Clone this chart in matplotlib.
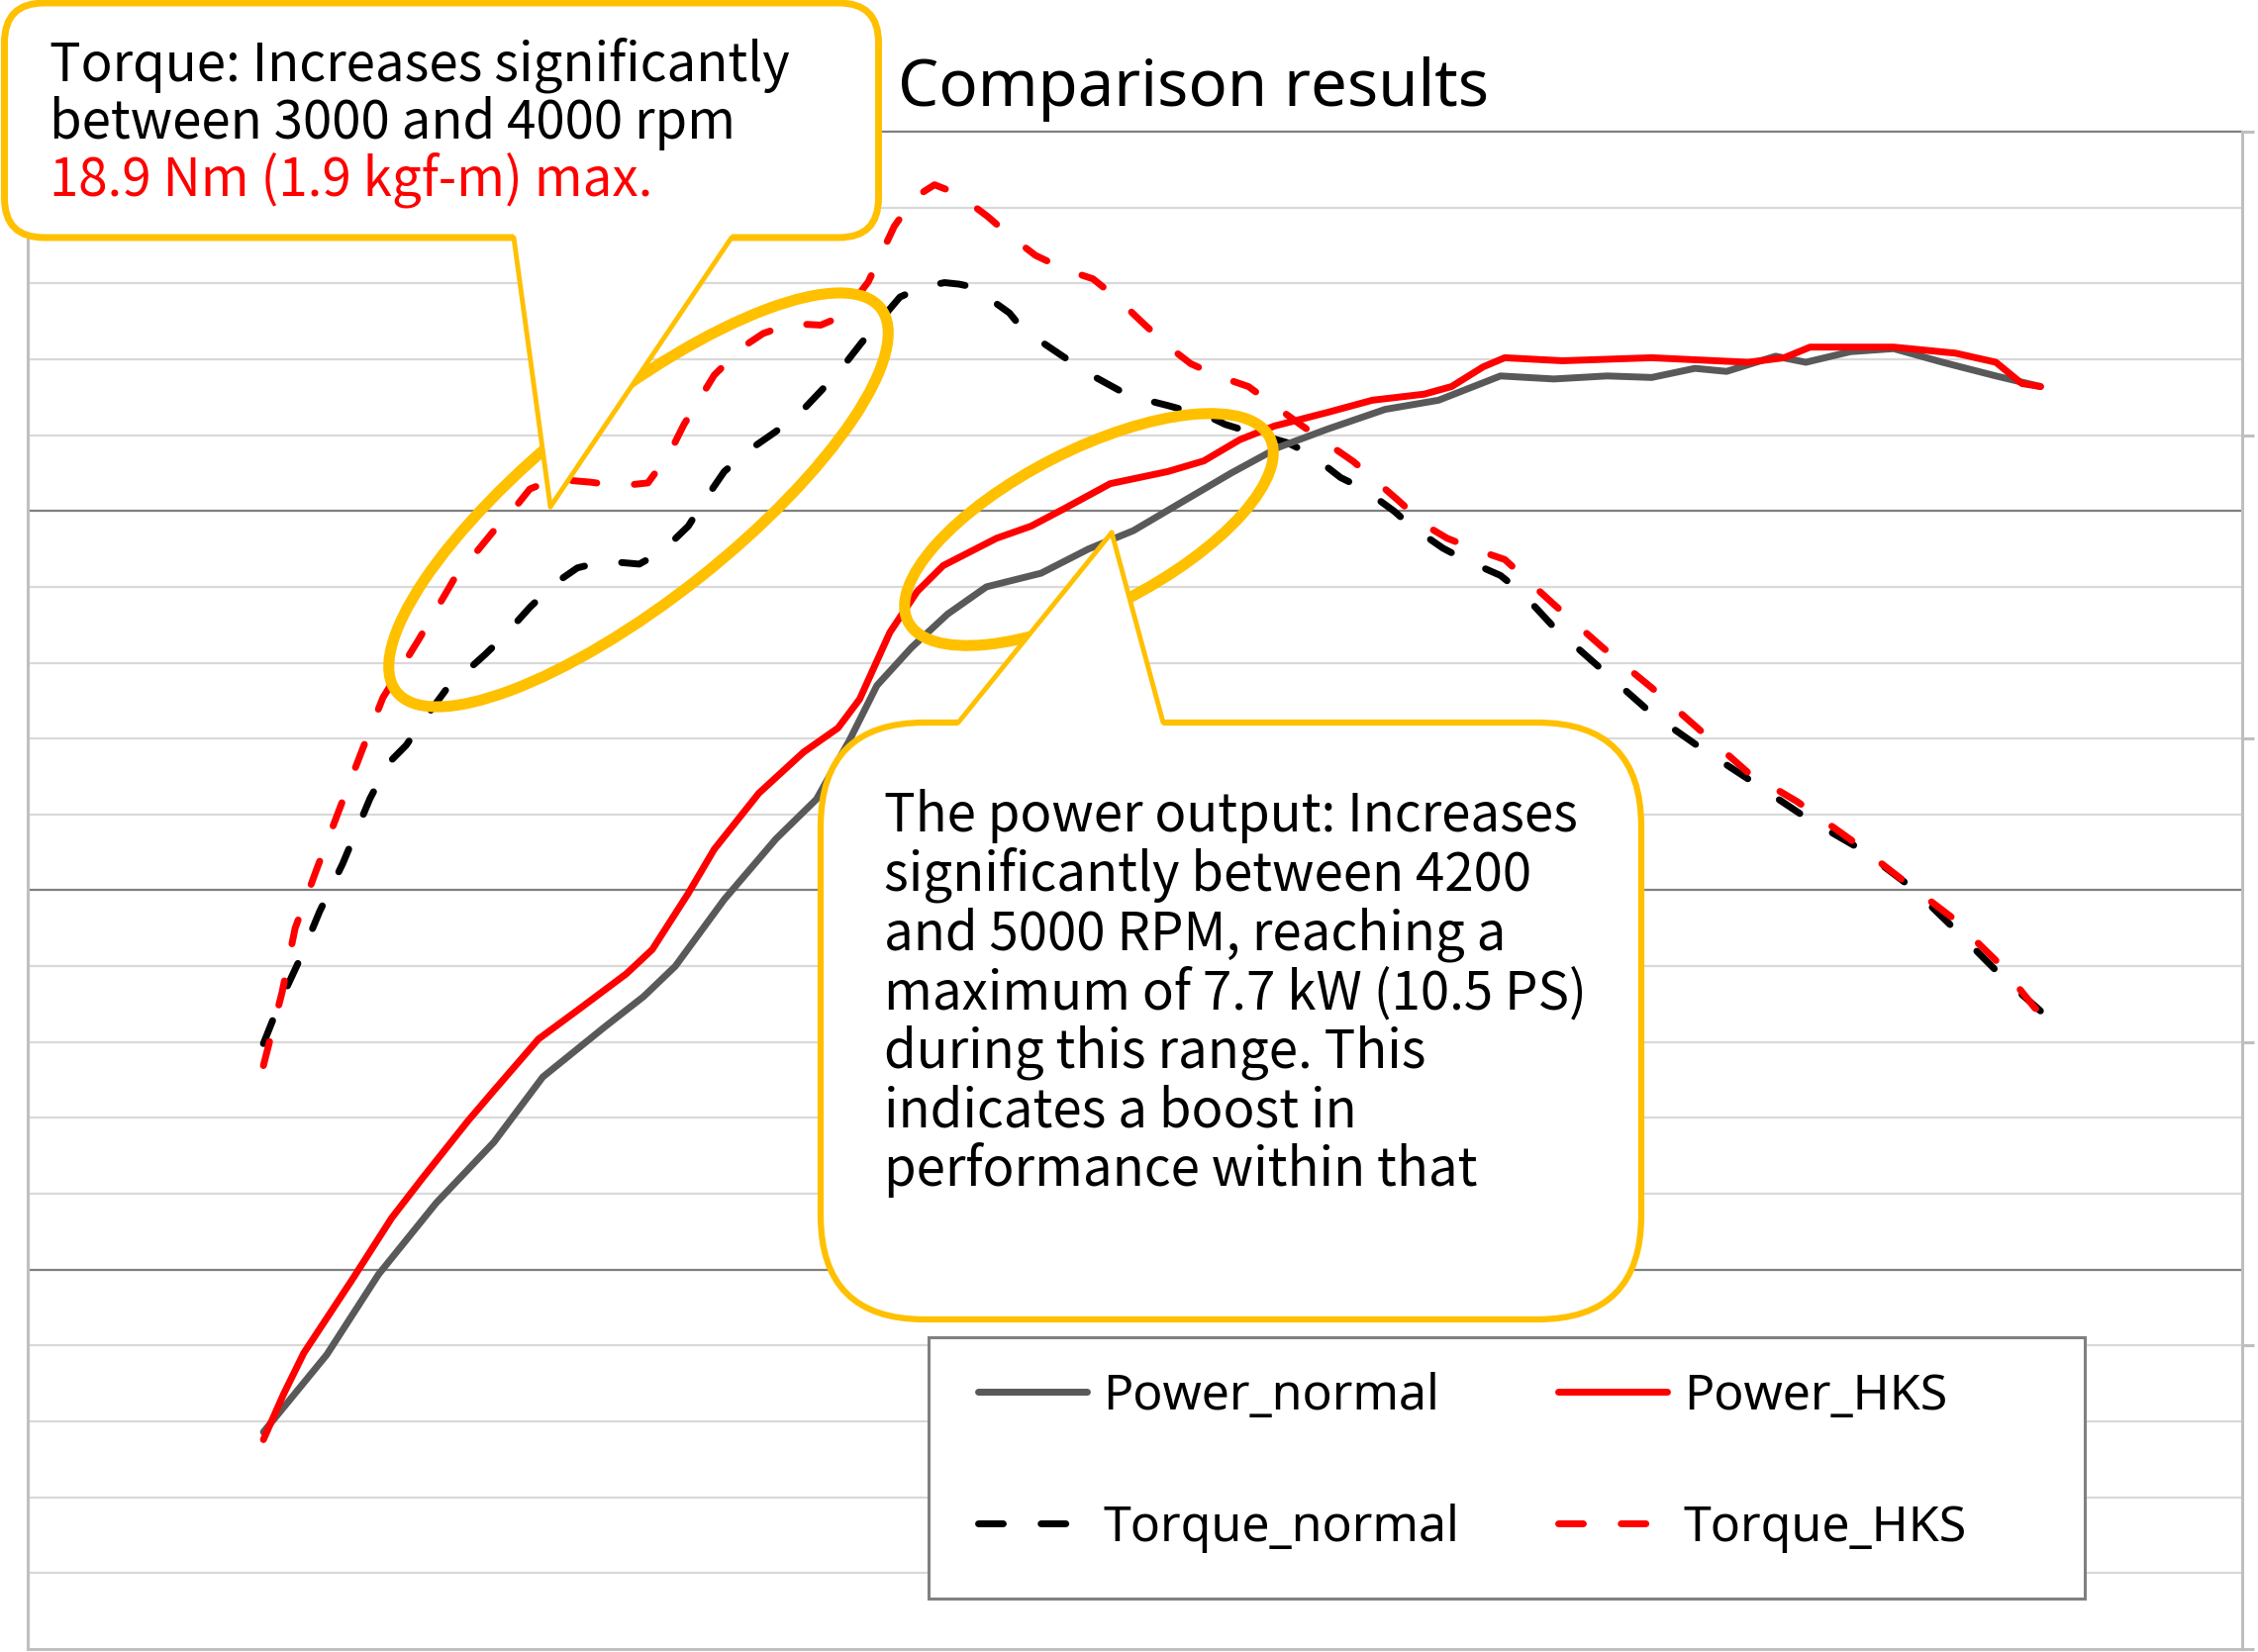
# engine test: torque / power, normal vs HKS muffler
import numpy as np
import matplotlib
matplotlib.use("Agg")
import matplotlib.pyplot as plt
from matplotlib.patches import FancyBboxPatch, Ellipse, Polygon, Rectangle
from matplotlib.lines import Line2D

# --- data (rpm, Nm / kW) ---
torque_hks_rpm = [2500, 2539, 2566, 2611, 2662, 2707, 2749, 2824, 2896, 2980, 3031, 3055, 3106, 3181,
                  3241, 3301, 3346, 3376, 3439, 3496, 3541, 3601, 3661, 3706, 3760, 3814, 3856, 3898,
                  3946, 4009, 4051, 4108, 4171, 4228, 4279, 4330, 4381, 4432, 4492, 4552, 4606, 4660,
                  4714, 4771, 4864, 4921, 4966, 5026, 5086, 5188, 5290, 5392, 5491, 5593, 5695, 5806,
                  5914, 6016, 6118, 6190, 6202]
torque_hks = [7.69, 8.66, 9.50, 10.28, 11.13, 11.87, 12.54, 13.31, 14.09, 14.74, 15.10, 15.29, 15.42,
              15.38, 15.33, 15.37, 15.76, 16.14, 16.79, 17.15, 17.34, 17.47, 17.45, 17.57, 18.02, 18.75,
              19.13, 19.30, 19.18, 18.88, 18.65, 18.37, 18.18, 18.06, 17.80, 17.49, 17.19, 16.94, 16.77,
              16.64, 16.39, 16.14, 15.90, 15.65, 15.14, 14.81, 14.64, 14.49, 14.36, 13.77, 13.20, 12.67,
              12.12, 11.55, 11.17, 10.67, 10.14, 9.65, 9.02, 8.45, 8.40]

torque_normal_rpm = [2500, 2536, 2575, 2617, 2665, 2722, 2761, 2797, 2839, 2881, 2962, 3001, 3055, 3106,
                     3154, 3211, 3283, 3331, 3385, 3421, 3460, 3511, 3559, 3610, 3661, 3703, 3745, 3787,
                     3826, 3871, 3919, 3949, 3979, 4021, 4054, 4081, 4165, 4231, 4303, 4384, 4471, 4504,
                     4561, 4633, 4681, 4744, 4792, 4855, 4891, 4957, 5002, 5077, 5122, 5188, 5290, 5392,
                     5491, 5602, 5713, 5833, 5935, 6028, 6127, 6202]
torque_normal = [7.98, 8.55, 9.08, 9.72, 10.35, 11.21, 11.68, 11.91, 12.29, 12.65, 13.11, 13.35, 13.73,
                 14.04, 14.25, 14.34, 14.30, 14.47, 14.80, 15.16, 15.52, 15.80, 16.01, 16.24, 16.58, 16.87,
                 17.21, 17.53, 17.82, 17.95, 18.01, 17.99, 17.95, 17.76, 17.61, 17.40, 17.04, 16.77, 16.52,
                 16.39, 16.24, 16.14, 16.03, 15.90, 15.75, 15.44, 15.29, 15.00, 14.80, 14.51, 14.36, 14.15,
                 13.92, 13.47, 12.90, 12.33, 11.89, 11.43, 10.96, 10.52, 10.03, 9.46, 8.83, 8.41]

power_hks_rpm = [2500, 2542, 2584, 2686, 2767, 2833, 2926, 2980, 3073, 3163, 3256, 3310, 3385, 3439,
                 3532, 3625, 3697, 3742, 3805, 3862, 3916, 4027, 4099, 4165, 4264, 4384, 4459, 4534,
                 4606, 4717, 4810, 4918, 4975, 5041, 5086, 5206, 5392, 5593, 5668, 5722, 5896, 6025,
                 6109, 6163, 6202]
power_hks = [1.38, 1.68, 1.95, 2.44, 2.84, 3.11, 3.48, 3.68, 4.02, 4.23, 4.45, 4.61, 4.98, 5.27, 5.64,
             5.91, 6.07, 6.26, 6.70, 6.97, 7.14, 7.32, 7.40, 7.51, 7.68, 7.76, 7.83, 7.97, 8.06, 8.15,
             8.23, 8.27, 8.32, 8.45, 8.51, 8.49, 8.51, 8.48, 8.51, 8.58, 8.58, 8.54, 8.48, 8.34, 8.32]

power_normal_rpm = [2500, 2632, 2740, 2860, 2980, 3082, 3211, 3292, 3358, 3460, 3568, 3652, 3721, 3778,
                    3850, 3925, 4006, 4120, 4219, 4312, 4414, 4516, 4615, 4717, 4837, 4948, 5077, 5188,
                    5299, 5392, 5482, 5548, 5650, 5713, 5806, 5896, 5998, 6109, 6202]
power_normal = [1.43, 1.94, 2.47, 2.94, 3.34, 3.77, 4.10, 4.30, 4.50, 4.94, 5.34, 5.60, 5.99, 6.35, 6.60,
                6.82, 7.00, 7.09, 7.25, 7.37, 7.56, 7.75, 7.92, 8.04, 8.17, 8.23, 8.39, 8.37, 8.39, 8.38,
                8.44, 8.42, 8.52, 8.48, 8.55, 8.57, 8.48, 8.39, 8.32]

title = "Comparison results"
note_torque = ["Torque: Increases significantly",
               "between 3000 and 4000 rpm",
               "18.9 Nm (1.9 kgf-m) max."]
note_power = ["The power output: Increases",
              "significantly between 4200",
              "and 5000 RPM, reaching a",
              "maximum of 7.7 kW (10.5 PS)",
              "during this range. This",
              "indicates a boost in",
              "performance within that"]

YELLOW = "#FFC000"
W, H = 2281, 1669
note_font, note_size = "Noto Sans CJK JP", 38

fig = plt.figure(figsize=(W / 100, H / 100), dpi=100)
ax = fig.add_axes([28 / W, 3 / H, 2237 / W, 1533 / H])
ax2 = ax.twinx()

ax.set_xlim(2009, 6622)
ax.set_ylim(0, 20)
ax2.set_ylim(0, 10)

# grid like excel: dark major, light minor
ax.set_yticks([5, 10, 15])
ax.set_yticks([v for v in range(1, 20) if v % 5], minor=True)
ax.set_xticks([])
ax.grid(which="major", axis="y", color="#7f7f7f", lw=1.6)
ax.grid(which="minor", axis="y", color="#d9d9d9", lw=1.6)
ax.tick_params(which="both", length=0, labelleft=False, labelbottom=False)
ax.set_axisbelow(True)
for s in ["left", "bottom"]:
    ax.spines[s].set_color("#bfbfbf")
    ax.spines[s].set_linewidth(2.2)
ax.spines["top"].set_color("#7f7f7f")
ax.spines["top"].set_linewidth(1.6)
ax.spines["right"].set_visible(False)

ax2.set_yticks(np.arange(0, 11, 2))
ax2.tick_params(axis="y", direction="out", length=8.5, width=2.2, color="#bfbfbf", labelright=False)
for s in ["left", "bottom", "top"]:
    ax2.spines[s].set_visible(False)
ax2.spines["right"].set_color("#bfbfbf")
ax2.spines["right"].set_linewidth(2.2)

dash = dict(lw=5, dashes=(3.6, 5.5), dash_capstyle="round")
l_tn, = ax.plot(torque_normal_rpm, torque_normal, color="black", label="Torque_normal", **dash)
l_th, = ax.plot(torque_hks_rpm, torque_hks, color="#ff0000", label="Torque_HKS", **dash)
solid = dict(lw=5, solid_capstyle="round", solid_joinstyle="round")
l_pn, = ax2.plot(power_normal_rpm, power_normal, color="#595959", label="Power_normal", **solid)
l_ph, = ax2.plot(power_hks_rpm, power_hks, color="#ff0000", label="Power_HKS", **solid)

fig.text(907 / W, 1 - 107 / H, title, fontsize=47, family="Noto Sans", ha="left", va="baseline")

# legend: frame drawn separately so the padding matches
inch = fig.dpi_scale_trans
fig.add_artist(Rectangle((9.38, (H - 1615) / 100), 11.68, 2.64, transform=inch, fc="white",
                         ec="#808080", lw=2.2, zorder=4))
fig.legend(handles=[l_pn, l_tn, l_ph, l_th], ncol=2, loc="center left",
           bbox_to_anchor=(988 / W, 1 - 1477 / H), frameon=False, borderpad=0, borderaxespad=0,
           handlelength=2.2, handletextpad=0.33, columnspacing=2.0, labelspacing=1.66,
           prop={"family": "Noto Sans", "size": 36}).set_zorder(5)

# highlight ellipses (inches from lower left)
fig.add_artist(Ellipse((6.45, (H - 505) / 100), 6.24, 2.0, angle=38.4, transform=inch,
                       fill=False, ec=YELLOW, lw=8, zorder=8))
fig.add_artist(Ellipse((11.0, (H - 535) / 100), 4.1, 1.6, angle=27, transform=inch,
                       fill=False, ec=YELLOW, lw=8, zorder=8))


def callout(x0, y0, w, h, r, base, tip, lw):
    fig.add_artist(FancyBboxPatch((x0, y0), w, h, boxstyle=f"round,pad=0,rounding_size={r}",
                                  transform=inch, fc="white", ec=YELLOW, lw=lw, zorder=10))
    bx1, bx2, by = base
    d = 0.06 if tip[1] < by else -0.06
    fig.add_artist(Polygon([(bx1, by + d), (bx2, by + d), (bx2, by), tip, (bx1, by)],
                           transform=inch, fc="white", ec="none", zorder=11))
    for bx in (bx1, bx2):
        fig.add_artist(Line2D([bx, tip[0]], [by, tip[1]], transform=inch, color=YELLOW,
                              lw=3.5, solid_capstyle="round", zorder=12))


callout(0.045, (H - 240) / 100, 8.83, 2.37, 0.4, (5.19, 7.39, (H - 240) / 100), (5.56, (H - 512) / 100), 5)
callout(8.29, (H - 1333) / 100, 8.29, 6.03, 1.05, (9.68, 11.75, (H - 730) / 100), (11.23, (H - 538) / 100), 4.5)

for i, line in enumerate(note_torque):
    fig.text(50 / W, 1 - (82 + 57.5 * i) / H, line, fontsize=note_size, family=note_font,
             color="#ff0000" if i == 2 else "black", ha="left", va="baseline", zorder=13)
for i, line in enumerate(note_power):
    fig.text(893 / W, 1 - (840 + 59.7 * i) / H, line, fontsize=note_size, family=note_font,
             color="black", ha="left", va="baseline", zorder=13)

fig.savefig("out.png", dpi=100)
